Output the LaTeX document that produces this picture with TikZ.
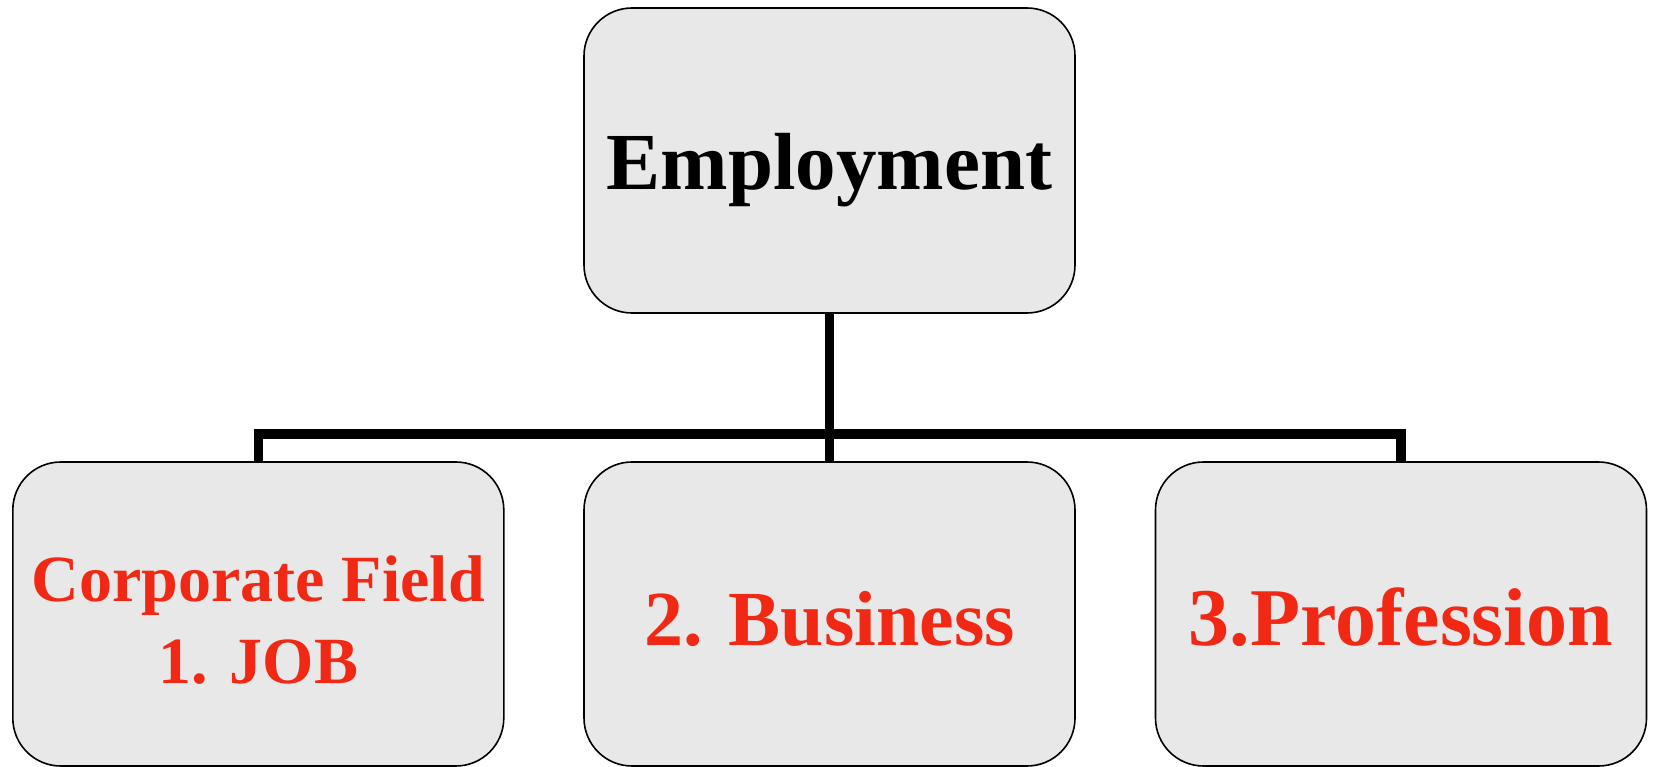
\documentclass[tikz,border=0pt]{standalone}
\usepackage{fontspec}
\setmainfont{Liberation Serif}
\definecolor{boxgray}{HTML}{E8E8E8}
\definecolor{labelred}{HTML}{F02814}
\newcommand{\placetext}[2]{\makebox[0pt]{\raisebox{#1}[0pt][0pt]{#2}}}
\begin{document}
\begin{tikzpicture}[x=1pt,y=-1pt,
  box/.style={draw=black,line width=1.6pt,fill=boxgray,rounded corners=48pt,
    minimum width=491pt,inner sep=0pt,align=center,font=\bfseries},
  conn/.style={line width=9.5pt,draw=black}]
\useasboundingbox (0,0) rectangle (1653,767);
\coordinate (busY) at (0,434);
\node[box,minimum height=305pt,font=\bfseries\fontsize{81}{90}\selectfont] (top) at (829.5,160.5) {\placetext{-29pt}{Employment}};
\node[box,minimum height=304pt,text=labelred,font=\bfseries\fontsize{66}{83}\selectfont] (job) at (258.3,614) {\placetext{13pt}{Corporate Field}\placetext{-69pt}{1. JOB}};
\node[box,minimum height=304pt,text=labelred,font=\bfseries\fontsize{78}{90}\selectfont] (biz) at (829.5,614) {\placetext{-31pt}{2. Business}};
\node[box,minimum height=304pt,text=labelred,font=\bfseries\fontsize{82}{90}\selectfont] (prof) at (1401,614) {\placetext{-31pt}{3.Profession}};
\draw[conn] (top.south) -- (biz.north);
\draw[conn] (job.north) -- (job.north |- busY) -- (prof.north |- busY) -- (prof.north);
\end{tikzpicture}
\end{document}
